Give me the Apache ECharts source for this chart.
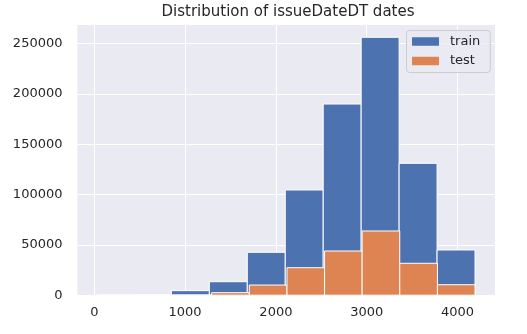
<!DOCTYPE html>
<html>
<head>
<meta charset="utf-8">
<script src="https://cdn.jsdelivr.net/npm/echarts@6/dist/echarts.min.js"></script>
<style>
html,body{margin:0;padding:0;background:#fff;}
#c{width:527px;height:334px;}
</style>
</head>
<body>
<div id="c"></div>
<script>
var titleText = 'Distribution of issueDateDT dates';
var seriesNames = ['train', 'test'];
var trainEdges = [13, 431, 849, 1267, 1685, 2103, 2521, 2939, 3357, 3775, 4193];
var trainCounts = [50, 600, 4500, 13400, 42600, 104500, 189900, 256200, 131000, 44900];
var testEdges = [50, 464, 879, 1293, 1707, 2122, 2536, 2950, 3364, 3779, 4193];
var testCounts = [0, 20, 150, 2500, 10100, 27300, 43900, 63800, 31700, 10400];
var xTicks = [0, 1000, 2000, 3000, 4000];
var yTicks = [0, 50000, 100000, 150000, 200000, 250000];

function toBins(edges, counts) {
  var out = [];
  for (var i = 0; i < counts.length; i++) out.push([edges[i], edges[i + 1], counts[i]]);
  return out;
}
function renderBar(params, api) {
  var p0 = api.coord([api.value(0), 0]);
  var p1 = api.coord([api.value(1), api.value(2)]);
  return {
    type: 'rect',
    shape: {x: p0[0], y: p1[1], width: p1[0] - p0[0], height: p0[1] - p1[1]},
    style: {fill: api.visual('color'), stroke: '#ffffff', lineWidth: 1}
  };
}
function plain(v) { return String(v); }
var chart = echarts.init(document.getElementById('c'), null, {renderer: 'canvas'});
var font = 'DejaVu Sans';
chart.setOption({
  animation: false,
  title: {
    text: titleText, left: 283, top: 0, textAlign: 'center',
    textStyle: {fontFamily: font, fontSize: 15, fontWeight: 'normal', color: '#262626'}
  },
  grid: {
    left: 77.5, right: 32, top: 25, bottom: 38.8, show: true,
    backgroundColor: '#EAEAF2', borderWidth: 0, containLabel: false
  },
  legend: {
    orient: 'vertical', left: 406.5, top: 30.5,
    data: seriesNames,
    itemWidth: 27, itemHeight: 8.5, itemGap: 4.5,
    padding: [3.5, 10, 4, 5.5],
    backgroundColor: 'rgba(234,234,242,0.8)', borderColor: '#cccccc', borderWidth: 1, borderRadius: 3,
    icon: 'rect',
    textStyle: {fontFamily: font, fontSize: 13, color: '#262626', lineHeight: 15, padding: [0, 0, 0, 6]}
  },
  xAxis: {
    type: 'value', min: -185, max: 4413,
    axisLine: {show: false}, axisTick: {show: false, customValues: xTicks},
    axisLabel: {customValues: xTicks, formatter: plain, fontFamily: font, fontSize: 13, color: '#262626', margin: 11},
    splitLine: {show: true, lineStyle: {color: '#ffffff', width: 1}}
  },
  yAxis: {
    type: 'value', min: 0, max: 268400,
    axisLine: {show: false}, axisTick: {show: false, customValues: yTicks},
    axisLabel: {customValues: yTicks, formatter: plain, fontFamily: font, fontSize: 13, color: '#262626', margin: 15},
    splitLine: {show: true, lineStyle: {color: '#ffffff', width: 1}}
  },
  series: [
    {name: seriesNames[0], type: 'custom', renderItem: renderBar, itemStyle: {color: '#4C72B0'},
     encode: {x: [0, 1], y: 2}, data: toBins(trainEdges, trainCounts), z: 2},
    {name: seriesNames[1], type: 'custom', renderItem: renderBar, itemStyle: {color: '#DD8452'},
     encode: {x: [0, 1], y: 2}, data: toBins(testEdges, testCounts), z: 3}
  ]
});
</script>
</body>
</html>
